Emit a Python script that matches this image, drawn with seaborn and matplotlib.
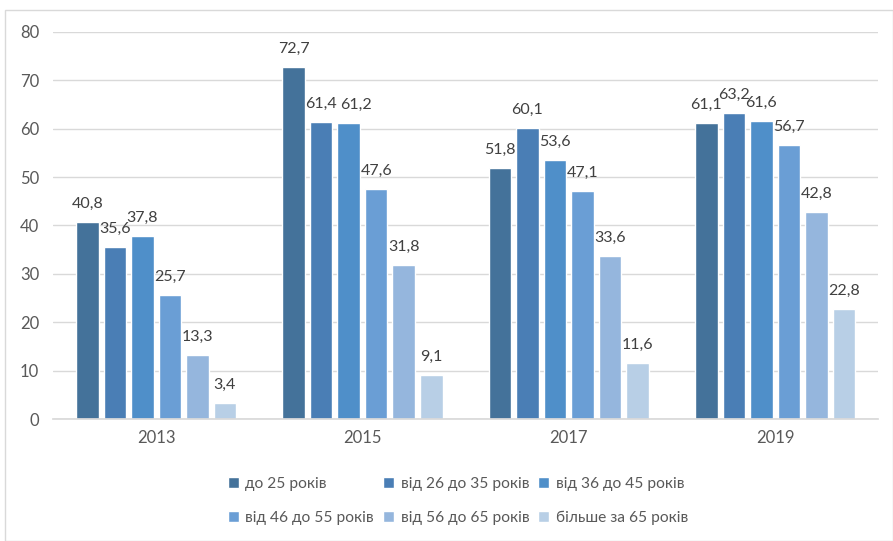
import matplotlib
matplotlib.use("Agg")
import matplotlib.pyplot as plt
import seaborn as sns
import pandas as pd

years = ["2013", "2015", "2017", "2019"]
groups = ["до 25 років", "від 26 до 35 років", "від 36 до 45 років",
          "від 46 до 55 років", "від 56 до 65 років", "більше за 65 років"]
v_25 = [40.8, 72.7, 51.8, 61.1]
v_26_35 = [35.6, 61.4, 60.1, 63.2]
v_36_45 = [37.8, 61.2, 53.6, 61.6]
v_46_55 = [25.7, 47.6, 47.1, 56.7]
v_56_65 = [13.3, 31.8, 33.6, 42.8]
v_65 = [3.4, 9.1, 11.6, 22.8]
series = [v_25, v_26_35, v_36_45, v_46_55, v_56_65, v_65]
colors = ["#44729A", "#4A7EB5", "#4F8FC9", "#6A9ED5", "#95B6DD", "#B8CFE6"]

rows = []
for g, vals in zip(groups, series):
    for y, v in zip(years, vals):
        rows.append({"year": y, "group": g, "value": v})
df = pd.DataFrame(rows)

sns.set_theme(style="white")
plt.rcParams['font.family'] = ['Lato', 'DejaVu Sans']
txt = "#595959"

fig = plt.figure(figsize=(8.93, 5.41), dpi=100)
ax = fig.add_axes([0.0594, 0.2255, 0.924, 0.7154])

sns.barplot(data=df, x="year", y="value", hue="group", hue_order=groups,
            order=years, palette=colors, width=0.8, gap=0.18, ax=ax,
            saturation=1, legend=True, errorbar=None)

all_anns = []
for c in ax.containers:
    anns = ax.bar_label(c, labels=[f"{v:.1f}".replace(".", ",") for v in c.datavalues],
                        padding=8, fontsize=11.5, color="#404040")
    all_anns.append(anns)

# nudge a label right to avoid collision (as in the reference)
all_anns[2][1].xyann = (5, 8)

ax.set_ylim(0, 80)
ax.set_yticks(range(0, 81, 10))
ax.set_xlim(-0.5, 3.5)
ax.yaxis.grid(True, color="#D9D9D9", linewidth=1)
ax.set_axisbelow(True)
for s in ["top", "right", "left"]:
    ax.spines[s].set_visible(False)
ax.spines["bottom"].set_color("#D9D9D9")
ax.tick_params(axis="both", length=0, labelsize=12, colors=txt, pad=8)
ax.tick_params(axis="y", pad=10)
ax.set_xlabel("")
ax.set_ylabel("")

h, l = ax.get_legend_handles_labels()
ax.legend_.remove()
order = [0, 3, 1, 4, 2, 5]
fig.legend([h[i] for i in order], [l[i] for i in order], loc="center",
           bbox_to_anchor=(0.513, 0.074), ncol=3,
           frameon=False, fontsize=11.2, labelcolor=txt,
           handlelength=0.7, handleheight=0.7, handletextpad=0.4,
           columnspacing=0.6, labelspacing=1.3)

border = plt.Rectangle((0.006, 0.0), 0.994, 0.982, transform=fig.transFigure,
                       fill=False, edgecolor="#D9D9D9", linewidth=1)
fig.patches.append(border)

fig.savefig("out.png", dpi=100)
